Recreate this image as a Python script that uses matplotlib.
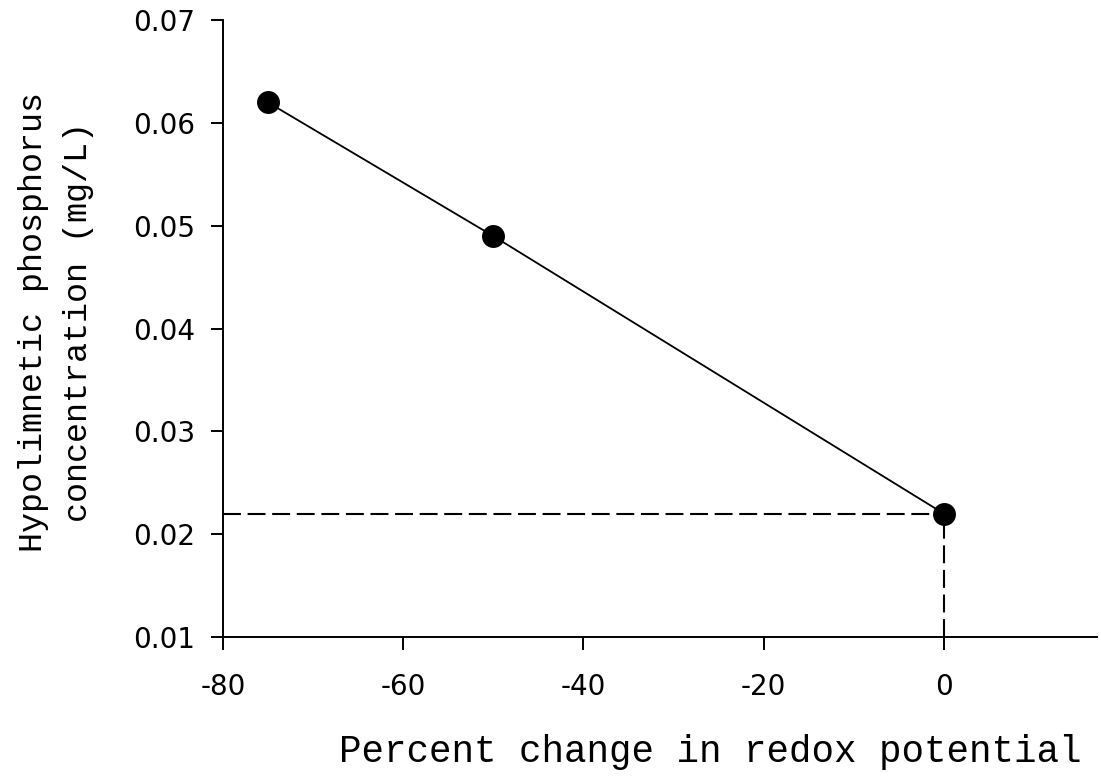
import matplotlib
matplotlib.use('Agg')
import matplotlib.pyplot as plt

plt.rcParams['axes.unicode_minus'] = False

# cambio porcentual del potencial redox vs fosforo hipolimnetico
redox_change = [-75, -50, 0]
phosphorus = [0.062, 0.049, 0.022]
x_ticks = [-80, -60, -40, -20, 0]
y_ticks = [0.01, 0.02, 0.03, 0.04, 0.05, 0.06, 0.07]
ref_x = 0
ref_y = 0.022

LABEL_FONT = "Liberation Mono"

fig = plt.figure(figsize=(11.01, 7.76), dpi=100)
ax = fig.add_axes([0.2025, 0.179, 0.794, 0.795])

# lineas de referencia punteadas hacia los ejes
ax.plot([-80, ref_x], [ref_y, ref_y], color="black", lw=1.5,
        dashes=(8.6, 3.2), zorder=2)
ax.plot([ref_x, ref_x], [0.01, ref_y], color="black", lw=1.5,
        dashes=(8.6, 3.2), zorder=2, clip_on=False)

ax.plot(redox_change, phosphorus, color="black", lw=1.3,
        marker="o", markersize=15.5, markerfacecolor="black", zorder=3)

ax.set_xlim(-80, 17)
ax.set_ylim(0.01, 0.07)
ax.set_xticks(x_ticks)
ax.set_yticks(y_ticks)
ax.set_xticklabels([str(v) for v in x_ticks])
ax.set_yticklabels([f"{v:.2f}" for v in y_ticks])

for side in ["top", "right"]:
    ax.spines[side].set_visible(False)
for side in ["left", "bottom"]:
    ax.spines[side].set_linewidth(1.4)

ax.tick_params(direction="out", length=9, width=1.4, labelsize=20)
ax.tick_params(axis="y", pad=11)
ax.tick_params(axis="x", pad=17)

ax.set_xlabel("Percent change in redox potential", fontsize=27,
              family=LABEL_FONT, va="center")
ax.xaxis.set_label_coords(0.557, -0.186)
ax.set_ylabel("Hypolimnetic phosphorus\nconcentration (mg/L)", fontsize=24,
              family=LABEL_FONT, va="center", linespacing=1.55)
ax.yaxis.set_label_coords(-0.191, 0.51)

fig.savefig("out.png", dpi=100)
plt.close()
